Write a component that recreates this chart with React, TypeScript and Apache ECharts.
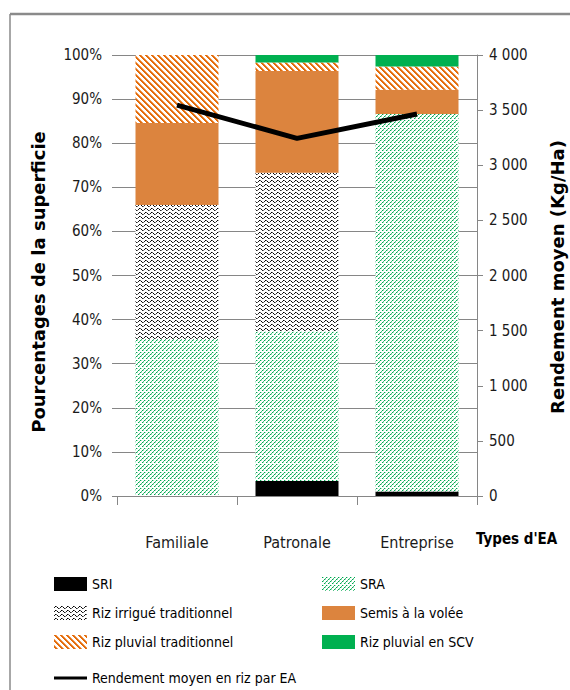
import React, { useEffect, useRef } from 'react';
import * as echarts from 'echarts';

const categories = ['Familiale', 'Patronale', 'Entreprise'];
const sri = [0, 3.4, 1.0];
const sra = [35.6, 33.9, 85.6];
const irrigue = [30.4, 36.0, 0];
const semis = [18.6, 23.1, 5.5];
const pluvialTrad = [15.4, 1.9, 5.3];
const pluvialScv = [0, 1.7, 2.6];
const rendement = [3546, 3244, 3465];

const NARROW = "'Liberation Sans Narrow', 'DejaVu Sans Condensed', 'Roboto', sans-serif";
const BOLD = "'DejaVu Sans', 'Open Sans', sans-serif";

function makeTile(w: number, h: number, draw: (ctx: CanvasRenderingContext2D) => void) {
  const c = document.createElement('canvas');
  c.width = w;
  c.height = h;
  const ctx = c.getContext('2d') as CanvasRenderingContext2D;
  ctx.fillStyle = '#ffffff';
  ctx.fillRect(0, 0, w, h);
  draw(ctx);
  return { image: c.toDataURL(), repeat: 'repeat', imageWidth: w, imageHeight: h } as any;
}

function px(ctx: CanvasRenderingContext2D, x: number, y: number, col: string) {
  ctx.fillStyle = col;
  ctx.fillRect(x, y, 1, 1);
}

export default function App() {
  const ref = useRef<HTMLDivElement>(null);
  useEffect(() => {
    document.body.style.margin = '0';
    if (!ref.current) return;
    const chart = echarts.init(ref.current, undefined, { renderer: 'svg' });

    const sraPattern = makeTile(8, 8, (ctx) => {
      for (let y = 0; y < 8; y++) {
        for (let x = 0; x < 8; x++) {
          const k = (x + y) % 4;
          if (k === 0) {
            if (y % 8 === 7) continue;
            px(ctx, x, y, y % 2 === 0 ? '#00a651' : '#4cc283');
          } else if (k === 1 && y % 2 === 0) {
            px(ctx, x, y, '#a6e3c0');
          }
        }
      }
    });
    const wavePattern = makeTile(6, 4, (ctx) => {
      const pts: [number, number, string][] = [
        [0, 1, '#222'], [1, 0, '#000'], [2, 0, '#666'], [3, 1, '#000'],
        [4, 2, '#222'], [5, 2, '#777'],
      ];
      pts.forEach(([x, y, c]) => px(ctx, x, y, c));
    });
    const stripePattern = makeTile(6, 6, (ctx) => {
      for (let y = 0; y < 6; y++) {
        for (let x = 0; x < 6; x++) {
          const k = (x - y + 12) % 6;
          if (k < 2) px(ctx, x, y, '#e46c0a');
          else if (k === 2) px(ctx, x, y, '#f0a060');
        }
      }
    });

    const thousand = (v: number) =>
      v >= 1000 ? `${Math.floor(v / 1000)} ${String(v % 1000).padStart(3, '0')}` : `${v}`;

    const barBase = { type: 'bar', stack: 'ea', barWidth: 83, yAxisIndex: 0 };
    const legendText = { fontFamily: NARROW, fontSize: 14, color: '#000' };

    chart.setOption({
      animation: false,
      backgroundColor: '#ffffff',
      grid: { left: 117, right: 93, top: 55, bottom: 194, containLabel: false },
      xAxis: {
        type: 'category',
        data: categories,
        axisLine: { show: true, lineStyle: { color: '#868686', width: 1 } },
        axisTick: { show: true, length: 9, lineStyle: { color: '#868686' } },
        axisLabel: { margin: 38, fontFamily: NARROW, fontSize: 16, color: '#1a1a1a' },
      },
      yAxis: [
        {
          type: 'value',
          min: 0,
          max: 100,
          interval: 10,
          position: 'left',
          axisLine: { show: false },
          axisTick: { show: true, length: 5, lineStyle: { color: '#868686' } },
          splitLine: { show: true, lineStyle: { color: '#868686', width: 1 } },
          axisLabel: { formatter: '{value}%', margin: 15, fontFamily: NARROW, fontSize: 15, color: '#1a1a1a' },
        },
        {
          type: 'value',
          min: 0,
          max: 4000,
          interval: 500,
          position: 'right',
          axisLine: { show: true, lineStyle: { color: '#868686', width: 1 } },
          axisTick: { show: true, length: 6, lineStyle: { color: '#868686' } },
          splitLine: { show: false },
          axisLabel: { formatter: (v: number) => thousand(v), margin: 12, fontFamily: NARROW, fontSize: 15, color: '#1a1a1a' },
        },
      ],
      legend: [
        {
          left: 54, top: 577, orient: 'vertical', padding: 0, itemGap: 15, itemWidth: 33, itemHeight: 14,
          itemTextGap: 4, icon: 'rect', textStyle: legendText,
          data: ['SRI', 'Riz irrigué traditionnel', 'Riz pluvial traditionnel'],
        },
        {
          left: 322, top: 577, orient: 'vertical', padding: 0, itemGap: 15, itemWidth: 33, itemHeight: 14,
          itemTextGap: 4, icon: 'rect', textStyle: legendText,
          data: ['SRA', 'Semis à la volée', 'Riz pluvial en SCV'],
        },
        {
          left: 54, top: 671, orient: 'vertical', padding: 0, itemWidth: 33, itemHeight: 3,
          itemTextGap: 4, icon: 'rect', textStyle: legendText,
          data: ['Rendement moyen en riz par EA'],
        },
      ],
      graphic: [
        { type: 'line', shape: { x1: 10, y1: 14, x2: 570, y2: 14 }, style: { stroke: '#8a8a8a', lineWidth: 2.5 } },
        { type: 'line', shape: { x1: 10, y1: 14, x2: 10, y2: 690 }, style: { stroke: '#8a8a8a', lineWidth: 1.5 } },
        {
          type: 'text', x: 38, y: 282, rotation: Math.PI / 2,
          style: { text: 'Pourcentages de la superficie', font: `bold 18px ${BOLD}`, fill: '#000', align: 'center', verticalAlign: 'middle' },
        },
        {
          type: 'text', x: 557, y: 277, rotation: Math.PI / 2,
          style: { text: 'Rendement moyen (Kg/Ha)', font: `bold 18px ${BOLD}`, fill: '#000', align: 'center', verticalAlign: 'middle' },
        },
        {
          type: 'text', x: 476, y: 539,
          style: { text: "Types d'EA", font: `bold 15px ${NARROW}`, fill: '#000', align: 'left', verticalAlign: 'middle' },
        },
      ],
      series: [
        { ...barBase, name: 'SRI', data: sri, itemStyle: { color: '#000000' } },
        { ...barBase, name: 'SRA', data: sra, itemStyle: { color: sraPattern } },
        { ...barBase, name: 'Riz irrigué traditionnel', data: irrigue, itemStyle: { color: wavePattern } },
        { ...barBase, name: 'Semis à la volée', data: semis, itemStyle: { color: '#dc843e' } },
        { ...barBase, name: 'Riz pluvial traditionnel', data: pluvialTrad, itemStyle: { color: stripePattern } },
        { ...barBase, name: 'Riz pluvial en SCV', data: pluvialScv, itemStyle: { color: '#00b050' } },
        {
          type: 'line', name: 'Rendement moyen en riz par EA', yAxisIndex: 1, data: rendement,
          symbol: 'none', z: 10, lineStyle: { color: '#000', width: 5 }, itemStyle: { color: '#000' },
        },
      ],
    });
    return () => chart.dispose();
  }, []);
  return <div ref={ref} style={{ width: 570, height: 690 }} />;
}
